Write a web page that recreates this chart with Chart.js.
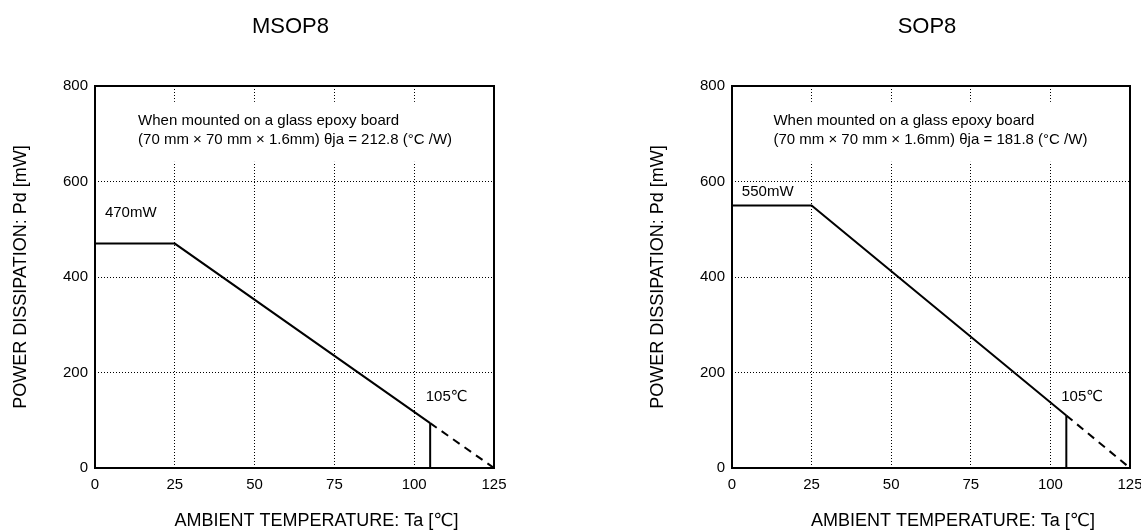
<!DOCTYPE html>
<html>
<head>
<meta charset="utf-8">
<script src="https://cdn.jsdelivr.net/npm/chart.js@4/dist/chart.umd.min.js"></script>
<style>
  html, body { margin: 0; padding: 0; background: #fff; overflow: hidden; width: 1141px; height: 532px; }
  .panel { position: absolute; top: 0; width: 580px; height: 532px; }
  #panelMsop { left: 0; }
  #panelSop { left: 637px; }
</style>
</head>
<body>
<div class="panel" id="panelMsop"><canvas id="chartMsop" width="580" height="532"></canvas></div>
<div class="panel" id="panelSop"><canvas id="chartSop" width="580" height="532"></canvas></div>
<script>
// Axis ticks
const xTickValues = [0, 25, 50, 75, 100, 125];
const yTickValues = [0, 200, 400, 600, 800];

// Derating curve: flat to 25 °C, linear down to 0 mW at 125 °C, rated up to 105 °C
const ambientTemp = [0, 25, 105, 125];
const msop8Pd = [470, 470, 94, 0];
const sop8Pd = [550, 550, 110, 0];
const maxRatedTemp = 105;

const xAxisTitle = 'AMBIENT TEMPERATURE: Ta [℃]';
const yAxisTitle = 'POWER DISSIPATION: Pd [mW]';

const FONT = '"Liberation Sans", Arial, "DejaVu Sans", sans-serif';
Chart.defaults.font.family = FONT;
Chart.defaults.color = '#000';

function points(xs, ys) {
  return xs.map((x, i) => ({ x: x, y: ys[i] }));
}

// Plot frame, package heading and the temperature axis caption
const framePlugin = {
  id: 'frame',
  afterDatasetsDraw(chart, args, opts) {
    const a = chart.chartArea, ctx = chart.ctx;
    const cx = (a.left + a.right) / 2;
    ctx.save();
    ctx.strokeStyle = '#000';
    ctx.lineWidth = 2;
    ctx.setLineDash([]);
    ctx.strokeRect(a.left, a.top, a.right - a.left, a.bottom - a.top);
    ctx.fillStyle = '#000';
    ctx.textAlign = 'center';
    ctx.textBaseline = 'middle';
    ctx.font = '22px ' + FONT;
    ctx.fillText(opts.heading, cx - 4, a.top - 59);
    ctx.font = '18px ' + FONT;
    ctx.fillText(xAxisTitle, cx + 22, a.bottom + 53);
    ctx.restore();
  }
};

// Mounting-condition note on a white backing, plus the curve labels
const notesPlugin = {
  id: 'notes',
  beforeDatasetsDraw(chart, args, opts) {
    const ctx = chart.ctx, xs = chart.scales.x, ys = chart.scales.y;
    const n = opts.note;
    const x0 = xs.getPixelForValue(n.x);
    const y0 = ys.getPixelForValue(n.y);
    ctx.save();
    ctx.font = '15px ' + FONT;
    const w = Math.max(...n.lines.map(t => ctx.measureText(t).width));
    ctx.fillStyle = '#fff';
    ctx.fillRect(x0 - 8, y0 - 19, w + 16, 19 * (n.lines.length - 1) + 41);
    ctx.fillStyle = '#000';
    ctx.textBaseline = 'middle';
    ctx.textAlign = 'left';
    n.lines.forEach((t, i) => ctx.fillText(t, x0, y0 + i * 19));
    ctx.restore();
  },
  afterDatasetsDraw(chart, args, opts) {
    const ctx = chart.ctx, xs = chart.scales.x, ys = chart.scales.y;
    ctx.save();
    ctx.font = '15px ' + FONT;
    ctx.fillStyle = '#000';
    ctx.textBaseline = 'middle';
    ctx.textAlign = 'left';
    opts.labels.forEach(l => ctx.fillText(l.text, xs.getPixelForValue(l.x), ys.getPixelForValue(l.y)));
    ctx.restore();
  }
};

function makeChart(canvasId, cfg) {
  const pd = cfg.pd;
  const line = { borderColor: '#000', borderWidth: 2, pointRadius: 0, showLine: true, fill: false, tension: 0 };
  return new Chart(document.getElementById(canvasId), {
    type: 'scatter',
    data: {
      datasets: [
        Object.assign({ data: points(ambientTemp.slice(0, 3), pd.slice(0, 3)) }, line),
        Object.assign({ data: points(ambientTemp.slice(2), pd.slice(2)), borderDash: [8, 6] }, line),
        Object.assign({ data: points([maxRatedTemp, maxRatedTemp], [0, pd[2]]) }, line)
      ]
    },
    options: {
      responsive: false,
      animation: false,
      events: [],
      layout: { padding: { left: 0, right: cfg.rightPad, top: 86, bottom: 0 } },
      plugins: {
        legend: { display: false },
        tooltip: { enabled: false },
        title: { display: false },
        frame: { heading: cfg.title },
        notes: { note: cfg.note, labels: cfg.labels }
      },
      scales: {
        x: {
          type: 'linear',
          min: 0,
          max: 125,
          afterFit(s) { s.height = 64; },
          afterBuildTicks(s) { s.ticks = xTickValues.map(v => ({ value: v })); },
          ticks: { font: { size: 15 }, padding: 8, color: '#000', maxRotation: 0 },
          grid: {
            drawTicks: false,
            lineWidth: 1,
            color: c => (c.tick && (c.tick.value === 0 || c.tick.value === 125)) ? 'rgba(0,0,0,0)' : '#000'
          },
          border: { display: false, dash: [1, 2] },
          title: { display: false }
        },
        y: {
          type: 'linear',
          min: 0,
          max: 800,
          afterFit(s) { s.width = 95; },
          afterBuildTicks(s) { s.ticks = yTickValues.map(v => ({ value: v })); },
          ticks: { font: { size: 15 }, padding: 7, color: '#000' },
          grid: {
            drawTicks: false,
            lineWidth: 1,
            color: c => (c.tick && (c.tick.value === 0 || c.tick.value === 800)) ? 'rgba(0,0,0,0)' : '#000'
          },
          border: { display: false, dash: [1, 2] },
          title: {
            display: true,
            text: yAxisTitle,
            color: '#000',
            font: { size: 18 },
            padding: { top: 10, bottom: 0 }
          }
        }
      }
    },
    plugins: [notesPlugin, framePlugin]
  });
}

makeChart('chartMsop', {
  title: 'MSOP8',
  pd: msop8Pd,
  rightPad: 86,
  note: {
    x: 13.5, y: 727,
    lines: ['When mounted on a glass epoxy board', '(70 mm × 70 mm × 1.6mm) θja = 212.8 (°C /W)']
  },
  labels: [
    { text: '470mW', x: 3.1, y: 534 },
    { text: '105℃', x: 103.6, y: 149 }
  ]
});

makeChart('chartSop', {
  title: 'SOP8',
  pd: sop8Pd,
  rightPad: 87,
  note: {
    x: 13, y: 727,
    lines: ['When mounted on a glass epoxy board', '(70 mm × 70 mm × 1.6mm) θja = 181.8 (°C /W)']
  },
  labels: [
    { text: '550mW', x: 3.1, y: 578 },
    { text: '105℃', x: 103.4, y: 149 }
  ]
});
</script>
</body>
</html>
